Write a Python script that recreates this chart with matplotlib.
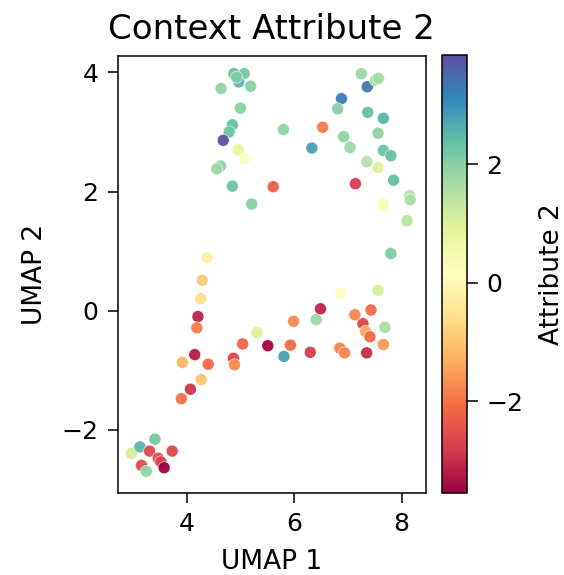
import numpy as np
import matplotlib
matplotlib.use("Agg")
import matplotlib.pyplot as plt

# UMAP coordinates, upper group
umap1_top = [4.88, 5.07, 4.97, 4.93, 5.19, 4.64, 5.00, 4.85, 4.79, 4.68,
             4.96, 5.07, 4.63, 4.56, 4.85, 5.61, 5.21, 5.80, 6.53, 6.33,
             6.88, 6.81, 7.25, 7.36, 7.51, 7.57, 7.37, 7.66, 6.92, 7.04,
             7.56, 7.66, 7.80, 7.35, 7.56, 7.14, 7.85, 8.15, 8.16, 7.66,
             8.10]
umap2_top = [3.98, 3.98, 3.84, 3.92, 3.77, 3.73, 3.40, 3.12, 3.00, 2.86,
             2.70, 2.55, 2.43, 2.38, 2.09, 2.08, 1.79, 3.04, 3.08, 2.73,
             3.56, 3.39, 3.98, 3.76, 3.87, 3.90, 3.33, 3.23, 2.92, 2.74,
             2.98, 2.69, 2.60, 2.50, 2.40, 2.13, 2.19, 1.93, 1.86, 1.78,
             1.51]
attr_top = [2.4, 2.2, 2.5, 2.1, 2.0, 1.9, 2.0, 2.4, 2.3, 3.85,
            0.8, 0.2, 1.9, 1.8, 2.3, -2.3, 2.0, 1.9, -1.9, 2.8,
            3.2, 2.0, 1.8, 3.3, 1.6, 1.7, 2.4, 2.5, 1.9, 1.8,
            1.9, 2.3, 2.4, 1.5, 1.0, -2.8, 2.4, 1.5, 1.6, 0.4,
            1.4]

# lower group + bottom-left cluster
umap1_low = [7.80, 4.38, 4.29, 4.26, 4.21, 4.19, 4.15, 3.92, 4.40, 4.27,
             4.07, 3.90, 4.87, 4.89, 5.04, 5.31, 5.51, 5.81, 5.93, 5.99,
             6.30, 6.41, 6.49, 6.86, 6.85, 6.94, 7.13, 7.43, 7.28, 7.33,
             7.41, 7.35, 7.56, 7.69, 7.66,
             2.97, 3.13, 3.41, 3.31, 3.73, 3.16, 3.25, 3.47, 3.52, 3.58]
umap2_low = [0.96, 0.89, 0.51, 0.20, -0.10, -0.29, -0.74, -0.87, -0.90, -1.16,
             -1.32, -1.48, -0.80, -0.91, -0.56, -0.37, -0.59, -0.77, -0.58, -0.18,
             -0.70, -0.15, 0.03, 0.29, -0.63, -0.71, -0.07, 0.01, -0.22, -0.35,
             -0.44, -0.71, 0.34, -0.28, -0.57,
             -2.40, -2.29, -2.16, -2.36, -2.36, -2.60, -2.70, -2.48, -2.54, -2.64]
attr_low = [2.1, -0.2, -0.9, -0.6, -3.1, -1.9, -3.2, -1.2, -2.1, -1.0,
            -2.9, -2.0, -2.7, -1.7, -2.2, 1.0, -3.5, 2.8, -2.1, -1.7,
            -2.8, 1.8, -3.1, 0.2, -1.8, -1.8, -1.8, -2.1, -2.7, -1.4,
            -2.1, -3.0, 1.1, 1.6, -1.6,
            1.1, 2.5, 2.2, -2.6, -2.6, -2.6, 1.9, -2.6, -2.7, -3.54]

umap1 = np.array(umap1_top + umap1_low)
umap2 = np.array(umap2_top + umap2_low)
attr = np.array(attr_top + attr_low)

fig = plt.figure(figsize=(5.64, 5.75), dpi=100)
ax = fig.add_axes([0.209, 0.143, 0.546, 0.760])
cax = fig.add_axes([0.784, 0.143, 0.044, 0.762])

sc = ax.scatter(umap1, umap2, c=attr, cmap="Spectral", vmin=-3.54, vmax=3.85,
                s=75, edgecolors="white", linewidths=0.4, alpha=0.95)

ax.set_xlim(2.72, 8.45)
ax.set_ylim(-3.06, 4.28)
ax.set_xticks([4, 6, 8])
ax.set_yticks([-2, 0, 2, 4])
ax.tick_params(labelsize=18, length=7, width=1.1, pad=7)
for s in ax.spines.values():
    s.set_linewidth(1.1)
ax.set_xlabel("UMAP 1", fontsize=19, labelpad=9)
ax.set_ylabel("UMAP 2", fontsize=19, labelpad=10)
ax.set_title("Context Attribute 2", fontsize=24.5, pad=12)

cb = fig.colorbar(sc, cax=cax)
cb.set_ticks([-2, 0, 2])
cb.ax.tick_params(labelsize=18, length=8, width=1.1, pad=6)
cb.outline.set_linewidth(1.1)
cb.set_label("Attribute 2", fontsize=19, labelpad=11)
cb.solids.set_alpha(1)

fig.savefig("out.png", dpi=100)
